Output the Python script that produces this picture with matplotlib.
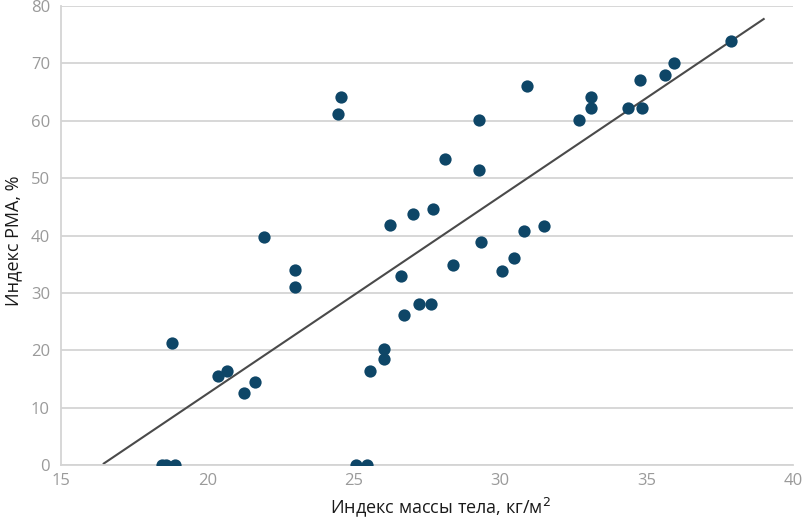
import numpy as np
import matplotlib.pyplot as plt

plt.rcParams['font.family'] = ['Open Sans', 'DejaVu Sans']

# body mass index, kg/m^2
bmi = [18.46, 18.58, 18.89, 18.79, 20.35, 20.66, 21.24, 21.64, 21.92,
       23.0, 23.0, 24.47, 24.57, 25.06, 25.46, 25.54, 26.04, 26.04, 26.25,
       26.6, 26.72, 27.01, 27.23, 27.62, 27.69, 28.1, 28.4, 29.26, 29.26,
       29.36, 30.07, 30.46, 30.83, 30.93, 31.5, 32.7, 33.09, 33.09, 34.37,
       34.76, 34.86, 35.64, 35.94, 37.9]
# RMA index, %
rma = [0, 0, 0, 21.3, 15.5, 16.4, 12.5, 14.5, 39.8,
       34.0, 31.0, 61.2, 64.1, 0, 0, 16.4, 20.3, 18.4, 41.8,
       33.0, 26.1, 43.7, 28.1, 28.1, 44.7, 53.4, 34.9, 60.2, 51.4,
       38.9, 33.9, 36.0, 40.8, 66.1, 41.7, 60.2, 64.1, 62.2, 62.2,
       67.1, 62.2, 68.0, 70.0, 73.9]

x_ticks = [15, 20, 25, 30, 35, 40]
y_ticks = [0, 10, 20, 30, 40, 50, 60, 70, 80]

fig = plt.figure(figsize=(8.03, 5.18), dpi=100)
ax = fig.add_axes([0.076, 0.1023, 0.9115, 0.8861])

ax.grid(axis='y', color='#d4d4d4', linewidth=1.3)
ax.set_axisbelow(True)

# linear trend, extended 2 units back and 1.1 forward
k, b = np.polyfit(bmi, rma, 1)
tx = np.array([min(bmi) - 2.0, max(bmi) + 1.1])
ax.plot(tx, k * tx + b, color='#4a4a4a', linewidth=1.5, zorder=2)

ax.scatter(bmi, rma, s=78, color='#0e4667', zorder=3, linewidths=0)

ax.set_xlim(15, 40)
ax.set_ylim(0, 80)
ax.set_xticks(x_ticks)
ax.set_yticks(y_ticks)
ax.tick_params(length=0, labelsize=12, colors='#9a9a9a')
ax.tick_params(axis='x', pad=6)
ax.tick_params(axis='y', pad=8)

for s in ['top', 'right']:
    ax.spines[s].set_visible(False)
for s in ['left', 'bottom']:
    ax.spines[s].set_color('#d4d4d4')
    ax.spines[s].set_linewidth(1.3)

fig.text(441 / 803, 5 / 518, 'Индекс массы тела, кг/м$^{2}$', fontsize=13,
         color='#1a1a1a', ha='center', va='baseline')
fig.text(4 / 803, 1 - 241 / 518, 'Индекс РМА, %', fontsize=13, rotation=90,
         color='#1a1a1a', ha='left', va='center')

fig.savefig('out.png', dpi=100)
